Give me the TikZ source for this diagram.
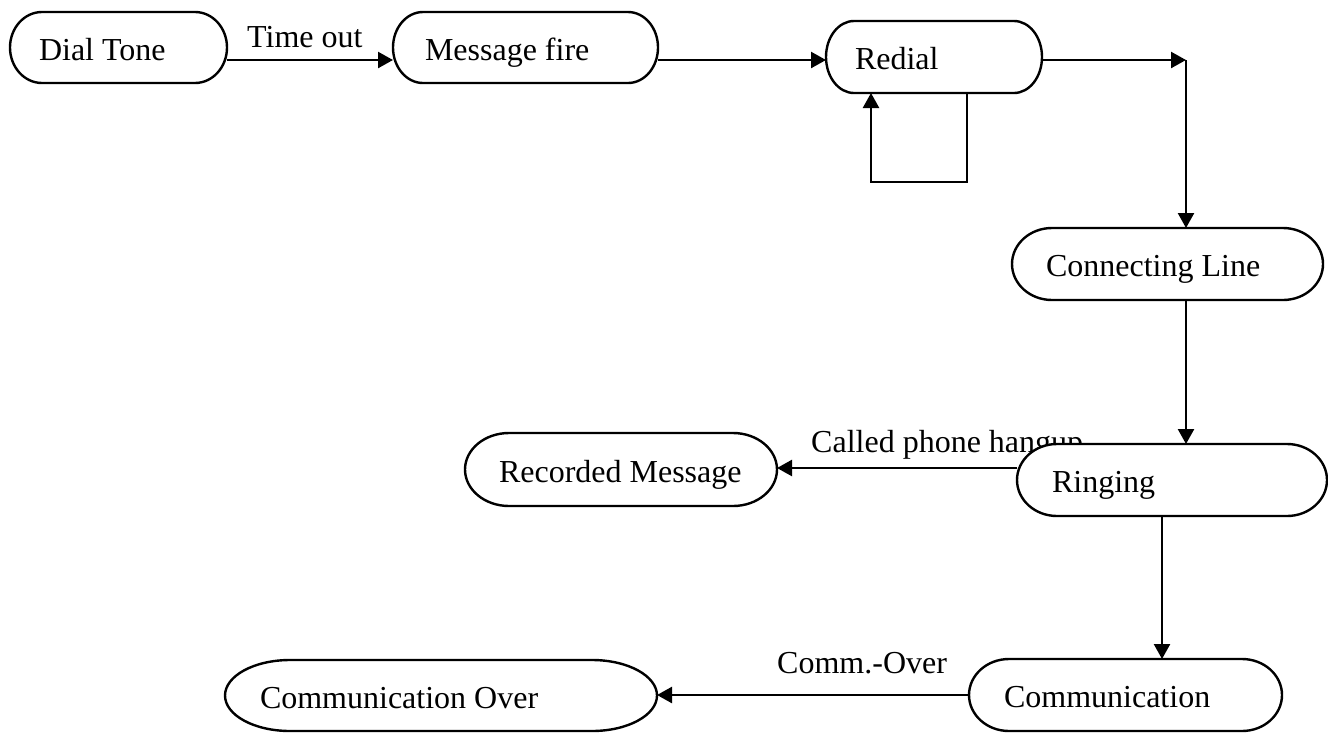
\documentclass[tikz,border=0pt]{standalone}
\usepackage{fontspec}
\setmainfont{Liberation Serif}
\usetikzlibrary{arrows.meta}
\pgfdeclarelayer{background}
\pgfdeclarelayer{foreground}
\pgfsetlayers{background,main,foreground}

% Stadium-shaped outline around a (text-only) node:
% #1 node name, #2 horizontal radius of the rounded ends, #3 half height
\newcommand\capsule[3]{%
  \path[capsule] ([xshift=#2]#1.north west) -- ([xshift=-#2]#1.north east)
    arc[start angle=90, end angle=-90, x radius=#2, y radius=#3]
    -- ([xshift=#2]#1.south west)
    arc[start angle=270, end angle=90, x radius=#2, y radius=#3] -- cycle;}

\begin{document}
\hyphenpenalty=10000
\begin{tikzpicture}[x=1pt, y=-1pt,
  every node/.style={font=\fontsize{32pt}{38pt}\selectfont},
  state/.style={draw=none, outer sep=0pt, inner ysep=0pt, align=flush left,
                text height=25pt, text depth=0pt},
  capsule/.style={draw, line width=2.4pt, fill=white},
  arrow/.style={line width=2.4pt, -{Triangle[length=15pt,width=16pt]}},
  lab/.style={anchor=base west, inner sep=0pt}]
\useasboundingbox (0,0) rectangle (1328,732);

% states (text on top)
\begin{pgfonlayer}{foreground}
\node[state, minimum height=71pt, text width=159pt, inner xsep=29pt] (dial)   at (118.5,47.5) {Dial Tone};
\node[state, minimum height=71pt, text width=201pt, inner xsep=32pt] (mfire)  at (525.5,47.5) {Message fire};
\node[state, minimum height=72pt, text width=158pt, inner xsep=29pt] (redial) at (934,57)     {Redial};
\node[state, minimum height=72pt, text width=243pt, inner xsep=34pt] (conn)   at (1167.5,264) {Connecting Line};
\node[state, minimum height=73pt, text width=244pt, inner xsep=34pt] (rec)    at (621,469.5)  {Recorded Message};
\node[state, minimum height=72pt, text width=240pt, inner xsep=35pt] (ring)   at (1172,480)   {Ringing};
\node[state, minimum height=72pt, text width=243pt, inner xsep=35pt] (comm)   at (1125.5,695) {Communication};
\node[state, minimum height=71pt, text width=362pt, inner xsep=35pt] (cover)  at (441,695.5)  {Communication Over};
\end{pgfonlayer}

% outlines of the states
\capsule{dial}{32pt}{35.5pt}
\capsule{mfire}{30pt}{35.5pt}
\capsule{redial}{28pt}{36pt}
\capsule{conn}{40pt}{36pt}
\capsule{rec}{44pt}{36.5pt}
\capsule{ring}{40pt}{36pt}
\capsule{comm}{40pt}{36pt}
\capsule{cover}{65pt}{35.5pt}

% transitions and their labels
\begin{pgfonlayer}{background}
\coordinate (t1) at ([yshift=-12.5pt]dial.east);
\draw[arrow] (t1) -- (t1 -| mfire.west);
\node[lab] (lbltime) at (247,47) {Time out};

\coordinate (t2) at ([yshift=-12.5pt]mfire.east);
\draw[arrow] (t2) -- (t2 -| redial.west);

\coordinate (t3) at ([yshift=-3pt]redial.east);
\coordinate (bend) at (1186,60);
\draw[arrow] (t3) -- (bend);
\draw[arrow] (bend) -- (bend |- conn.north);

\draw[arrow] ([xshift=33pt]redial.south) -- ++(0,89) -| ([xshift=-63pt]redial.south);

\draw[arrow] (bend |- conn.south) -- (bend |- ring.north);

\coordinate (t4) at ([yshift=12pt]ring.west);
\draw[arrow] (t4) -- (t4 -| rec.east);
\node[lab] (lblhang) at (811,452) {Called phone hangup};

\coordinate (t5) at ([xshift=-10pt]ring.south);
\draw[arrow] (t5) -- (t5 |- comm.north);

\draw[arrow] (comm.west) -- (comm.west -| cover.east);
\node[lab] (lblover) at (777,673) {Comm.-Over};
\end{pgfonlayer}
\end{tikzpicture}
\end{document}
